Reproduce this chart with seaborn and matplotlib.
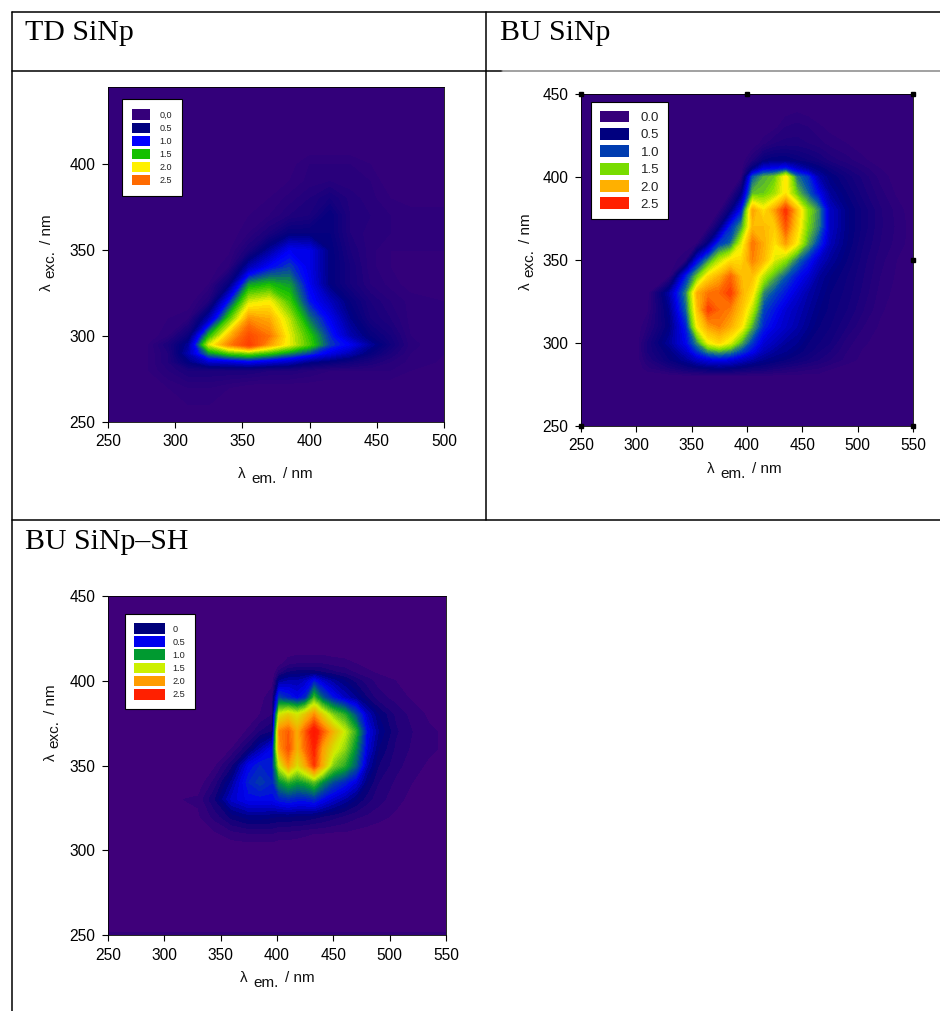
import numpy as np
import matplotlib
matplotlib.use('Agg')
import matplotlib.pyplot as plt
from matplotlib.colors import LinearSegmentedColormap
from matplotlib.lines import Line2D
from matplotlib.patches import Patch
import seaborn as sns

W, H = 940, 1011

legend_labels_1 = ['0,0', '0.5', '1.0', '1.5', '2.0', '2.5']
legend_labels_2 = ['0.0', '0.5', '1.0', '1.5', '2.0', '2.5']
legend_labels_3 = ['0', '0.5', '1.0', '1.5', '2.0', '2.5']

legend_colors_1 = ['#35007A', '#00007F', '#0000FF', '#14C000', '#FFF000', '#FF6A00']
legend_colors_2 = ['#35007A', '#00007F', '#003CB0', '#78DC00', '#FFB000', '#FF2000']
legend_colors_3 = ['#00007A', '#0000F0', '#009A30', '#CCF000', '#FF9C00', '#FF2000']

# TD SiNp
em_1 = [250, 280, 295, 310, 325, 340, 355, 370, 385, 400, 415, 430, 445, 460, 475, 500]
exc_1 = [250, 270, 280, 285, 290, 295, 300, 310, 320, 330, 340, 350, 360, 370, 380, 390, 400, 410, 445]
z_1 = [
    [0, 0, 0, 0, 0, 0, 0, 0, 0, 0, 0, 0, 0, 0, 0, 0],
    [0, 0, .05, .1, .1, .05, 0, 0, 0, 0, 0, 0, 0, 0, 0, 0],
    [0, .05, .15, .25, .25, .25, .25, .2, .2, .15, .1, .1, .1, .1, .05, .03],
    [0, .05, .2, .5, .8, .85, .95, .85, .75, .55, .45, .35, .25, .15, .08, .04],
    [0, .05, .2, .7, 1.35, 1.6, 1.7, 1.55, 1.35, 1.15, .9, .7, .45, .25, .1, .05],
    [0, .05, .25, .6, 1.9, 2.4, 2.8, 2.3, 1.95, 1.6, 1.15, .95, .6, .35, .12, .05],
    [0, 0, .1, .4, 1.5, 2.2, 2.7, 2.45, 1.95, 1.55, 1.1, .7, .45, .3, .1, .05],
    [0, 0, .05, .1, .7, 1.6, 2.35, 2.25, 1.85, 1.3, .95, .55, .3, .2, .08, .05],
    [0, 0, 0, 0, .2, 1.05, 1.9, 2.0, 1.6, 1.05, .75, .45, .25, .15, .08, .05],
    [0, 0, 0, 0, .05, .45, 1.4, 1.5, 1.4, .95, .5, .3, .15, .08, .02, .02],
    [0, 0, 0, 0, 0, .1, .7, 1.0, 1.15, .9, .5, .3, .12, .05, .02, .02],
    [0, 0, 0, 0, 0, .03, .25, .6, .95, .9, .5, .25, .12, .05, .05, .05],
    [0, 0, 0, 0, 0, 0, .1, .25, .45, .45, .45, .2, .12, .1, .1, .1],
    [0, 0, 0, 0, 0, 0, .05, .1, .2, .25, .45, .2, .15, .1, .1, .1],
    [0, 0, 0, 0, 0, 0, 0, .05, .12, .2, .3, .18, .12, .05, 0, 0],
    [0, 0, 0, 0, 0, 0, 0, .02, .05, .12, .15, .12, .1, 0, 0, 0],
    [0, 0, 0, 0, 0, 0, 0, 0, .02, .1, .1, .1, .05, 0, 0, 0],
    [0, 0, 0, 0, 0, 0, 0, 0, 0, 0, 0, 0, 0, 0, 0, 0],
    [0, 0, 0, 0, 0, 0, 0, 0, 0, 0, 0, 0, 0, 0, 0, 0],
]

# BU SiNp
em_2 = [250, 300, 310, 330, 345, 355, 365, 375, 385, 395, 405, 415, 425, 435, 445, 455, 465, 475, 490, 505, 520, 535, 550]
exc_2 = [250, 280, 285, 290, 295, 300, 310, 320, 330, 340, 350, 360, 370, 380, 390, 400, 405, 410, 420, 430, 440, 450]
z_2 = [
    [0, 0, 0, 0, 0, 0, 0, 0, 0, 0, 0, 0, 0, 0, 0, 0, 0, 0, 0, 0, 0, 0, 0],
    [0, 0, 0, 0, .02, .02, .02, .02, .02, .02, .02, .02, .02, .02, .02, .02, .02, 0, 0, 0, 0, 0, 0],
    [0, 0, .08, .2, .3, .35, .4, .42, .4, .35, .3, .28, .22, .18, .15, .12, .1, .06, .02, 0, 0, 0, 0],
    [0, 0, .15, .35, .5, .65, .75, .8, .75, .65, .55, .45, .4, .35, .3, .25, .2, .15, .08, .03, 0, 0, 0],
    [0, 0, .2, .4, .65, .95, 1.2, 1.3, 1.2, 1.0, .8, .6, .5, .45, .38, .32, .25, .2, .1, .04, .01, 0, 0],
    [0, 0, .2, .5, .8, 1.2, 1.75, 1.9, 1.7, 1.3, .95, .7, .6, .5, .45, .35, .3, .25, .12, .06, .02, 0, 0],
    [0, 0, .1, .4, .9, 1.8, 2.15, 2.25, 2.1, 1.85, 1.3, .9, .75, .65, .55, .45, .35, .3, .2, .1, .04, 0, 0],
    [0, 0, .03, .45, 1.1, 2.0, 2.5, 2.35, 2.25, 2.0, 1.6, 1.0, .85, .7, .6, .5, .4, .33, .25, .15, .06, .02, 0],
    [0, 0, 0, .55, 1.2, 2.1, 2.3, 2.35, 2.5, 2.1, 1.85, 1.2, 1.0, .85, .7, .55, .45, .35, .28, .18, .08, .03, 0],
    [0, 0, 0, .05, .9, 1.4, 1.9, 2.1, 2.35, 2.05, 2.0, 1.6, 1.3, 1.05, .85, .7, .5, .4, .3, .2, .1, .04, 0],
    [0, 0, 0, 0, .1, .75, 1.2, 1.6, 1.85, 1.9, 2.25, 2.05, 1.7, 1.5, 1.15, .9, .65, .5, .35, .22, .12, .05, .01],
    [0, 0, 0, 0, 0, .05, .4, .95, 1.1, 1.7, 2.3, 2.1, 1.85, 2.15, 1.8, 1.3, .95, .6, .4, .25, .15, .08, .02],
    [0, 0, 0, 0, 0, 0, .03, .35, .9, 1.25, 2.05, 2.05, 1.95, 2.4, 1.95, 1.45, 1.15, .65, .42, .28, .16, .09, .02],
    [0, 0, 0, 0, 0, 0, 0, .03, .35, .85, 2.15, 1.85, 2.15, 2.55, 2.05, 1.5, 1.2, .65, .42, .28, .16, .08, .01],
    [0, 0, 0, 0, 0, 0, 0, 0, .05, .4, 1.35, 1.4, 1.55, 1.85, 1.4, 1.1, .8, .5, .35, .22, .12, .04, 0],
    [0, 0, 0, 0, 0, 0, 0, 0, 0, .05, 1.05, 1.3, 1.4, 1.85, 1.15, .95, .55, .4, .28, .18, .08, .02, 0],
    [0, 0, 0, 0, 0, 0, 0, 0, 0, 0, .4, .75, .8, .9, .65, .5, .4, .3, .2, .12, .05, 0, 0],
    [0, 0, 0, 0, 0, 0, 0, 0, 0, 0, .15, .35, .4, .4, .35, .3, .25, .18, .12, .06, .02, 0, 0],
    [0, 0, 0, 0, 0, 0, 0, 0, 0, 0, 0, .08, .15, .17, .17, .15, .12, .08, .05, .02, 0, 0, 0],
    [0, 0, 0, 0, 0, 0, 0, 0, 0, 0, 0, 0, .03, .1, .12, .1, .06, .03, 0, 0, 0, 0, 0],
    [0, 0, 0, 0, 0, 0, 0, 0, 0, 0, 0, 0, 0, .02, .04, .02, 0, 0, 0, 0, 0, 0, 0],
    [0, 0, 0, 0, 0, 0, 0, 0, 0, 0, 0, 0, 0, 0, 0, 0, 0, 0, 0, 0, 0, 0, 0],
]

# BU SiNp-SH
em_3 = [250, 330, 345, 360, 375, 385, 396, 402, 410, 418, 425, 433, 440, 450, 460, 470, 480, 490, 505, 520, 535, 550]
exc_3 = [250, 254, 300, 310, 320, 330, 340, 350, 360, 370, 380, 390, 400, 405, 410, 420, 450]
z_3 = [
    [.08, .08, .08, .08, .08, .08, .08, .08, .08, .08, .08, .08, .08, .08, .08, .08, .08, .08, .08, .08, .08, .08],
    [0, 0, 0, 0, 0, 0, 0, 0, 0, 0, 0, 0, 0, 0, 0, 0, 0, 0, 0, 0, 0, 0],
    [0, 0, 0, 0, 0, 0, 0, 0, 0, 0, 0, 0, 0, 0, 0, 0, 0, 0, 0, 0, 0, 0],
    [0, 0, .04, .08, .1, .1, .1, .08, .08, .07, .06, .05, .05, .04, .04, .03, .02, .01, 0, 0, 0, 0],
    [0, .04, .12, .22, .28, .28, .26, .25, .25, .24, .24, .22, .2, .17, .14, .11, .09, .07, .04, .02, 0, 0],
    [0, .06, .2, .42, .52, .52, .52, .58, .62, .58, .58, .62, .52, .42, .34, .25, .17, .12, .07, .03, .01, 0],
    [0, .01, .12, .32, .6, .68, .6, .95, 1.1, 1.0, 1.05, 1.2, .95, .72, .6, .45, .25, .15, .09, .05, .02, 0],
    [0, 0, .04, .18, .5, .6, .6, 1.5, 2.0, 1.6, 1.9, 2.4, 1.9, 1.3, 1.1, .8, .36, .2, .12, .07, .04, .02],
    [0, 0, 0, .05, .2, .35, .5, 2.0, 2.3, 1.85, 2.2, 2.5, 2.0, 1.6, 1.35, .95, .45, .25, .14, .09, .06, .04],
    [0, 0, 0, .01, .06, .15, .2, 2.1, 2.25, 1.9, 2.25, 2.65, 2.3, 1.85, 1.5, 1.1, .5, .3, .16, .1, .06, .04],
    [0, 0, 0, 0, .02, .05, .1, 1.55, 1.7, 1.55, 1.75, 2.05, 1.7, 1.3, 1.1, .75, .4, .25, .14, .08, .04, .02],
    [0, 0, 0, 0, 0, .02, .1, .7, .6, .5, .6, 1.15, .8, .55, .4, .3, .2, .12, .08, .04, .01, 0],
    [0, 0, 0, 0, 0, 0, .02, .3, .35, .35, .4, .55, .42, .32, .25, .18, .12, .08, .05, .02, 0, 0],
    [0, 0, 0, 0, 0, 0, 0, .12, .2, .22, .22, .22, .2, .16, .13, .09, .06, .04, .02, .01, 0, 0],
    [0, 0, 0, 0, 0, 0, 0, .03, .08, .1, .1, .1, .1, .08, .07, .05, .03, .02, 0, 0, 0, 0],
    [0, 0, 0, 0, 0, 0, 0, 0, 0, 0, 0, 0, 0, 0, 0, 0, 0, 0, 0, 0, 0, 0],
    [0, 0, 0, 0, 0, 0, 0, 0, 0, 0, 0, 0, 0, 0, 0, 0, 0, 0, 0, 0, 0, 0],
]

ticks_em_1 = [250, 300, 350, 400, 450, 500]
ticks_exc_1 = [250, 300, 350, 400]
ticks_wide = [250, 300, 350, 400, 450, 500, 550]
ticks_exc = [250, 300, 350, 400, 450]

sns.set_theme(style='white', rc={'axes.edgecolor': 'black', 'axes.linewidth': 0.6})
plt.rcParams['font.family'] = ['Liberation Sans', 'DejaVu Sans']

cmap_1 = sns.blend_palette(['#35007A', '#00007F', '#0000FF', '#14C000', '#FFF000', '#FF6A00', '#FF2000'], n_colors=256, as_cmap=True)
cmap_2 = LinearSegmentedColormap.from_list('bu', [(0, '#35007A'), (.4 / 3, '#00007F'), (.8 / 3, '#0000F0'), (1.05 / 3, '#0050B0'),
                                                  (1.45 / 3, '#78DC00'), (1.8 / 3, '#FFF000'), (2.1 / 3, '#FFB000'), (2.6 / 3, '#FF2000'), (1, '#FF0000')])
cmap_3 = LinearSegmentedColormap.from_list('sh', [(0, '#46007A'), (.25 / 3, '#00007A'), (.5 / 3, '#0000F0'), (1 / 3, '#009A30'),
                                                  (1.5 / 3, '#CCF000'), (2 / 3, '#FF9C00'), (2.5 / 3, '#FF2000'), (1, '#FF0000')])

fig = plt.figure(figsize=(W / 100, H / 100), dpi=100)


def add_panel(box, em, exc, z, cmap, xlim, ylim, xticks, yticks):
    left, top, right, bottom = box
    ax = fig.add_axes([left / W, 1 - bottom / H, (right - left) / W, (bottom - top) / H])
    ax.contourf(em, exc, np.array(z), levels=np.arange(0, 3.01, 0.05), cmap=cmap, vmin=0, vmax=3.0, antialiased=False)
    ax.set_xlim(xlim)
    ax.set_ylim(ylim)
    ax.set_xticks(xticks)
    ax.set_yticks(yticks)
    ax.tick_params(left=True, bottom=True, length=4, width=0.8, pad=5, labelsize=11.2, colors='black')
    return ax


def add_label(x, y, name, vertical=False):
    # lambda, dropped subscript and unit sit on separate baselines in the original
    parts = [('λ', 0, 0, 11), (name, 13, 5, 11), ('/ nm', 45, 0, 11)]
    if name == 'exc.':
        parts = [('λ', 0, 0, 11), (name, 13, 3, 11), ('/ nm', 47, 0, 11)]
    for txt, along, drop, size in parts:
        if vertical:
            px, py, rot = x + drop, y - along, 90
        else:
            px, py, rot = x + along, y + drop, 0
        fig.text(px / W, 1 - py / H, txt, fontsize=size, rotation=rot, rotation_mode='anchor',
                 ha='left', va='center', color='#111111')


def add_legend(ax, colors, labels, corner, size, hlen, hheight, spacing, pad, textpad):
    handles = [Patch(facecolor=c, edgecolor='none', label=t) for c, t in zip(colors, labels)]
    leg = ax.legend(handles=handles, loc='upper left', bbox_to_anchor=(corner[0] / W, 1 - corner[1] / H),
                    bbox_transform=fig.transFigure, fontsize=size, handlelength=hlen, handleheight=hheight,
                    labelspacing=spacing, borderaxespad=0, frameon=True, fancybox=False, framealpha=1,
                    borderpad=pad, handletextpad=textpad)
    leg.get_frame().set_edgecolor('black')
    leg.get_frame().set_linewidth(0.8)
    for t in leg.get_texts():
        t.set_color('#222222')


ax1 = add_panel((108, 87, 444, 422), em_1, exc_1, z_1, cmap_1, (250, 500), (250, 445), ticks_em_1, ticks_exc_1)
add_label(238, 474, 'em.')
add_label(47, 291, 'exc.', vertical=True)
add_legend(ax1, legend_colors_1, legend_labels_1, (122, 99), 6.5, 2.0, 1.4, 0.3, 1.15, 1.0)

ax2 = add_panel((581, 94, 913, 426), em_2, exc_2, z_2, cmap_2, (250, 550), (250, 450), ticks_wide, ticks_exc)
add_label(707, 469, 'em.')
add_label(526, 290, 'exc.', vertical=True)
add_legend(ax2, legend_colors_2, legend_labels_2, (591, 102), 9.5, 2.25, 1.0, 0.3, 0.65, 0.85)
ax2.plot([250, 400, 550, 550, 550, 250], [450, 450, 450, 350, 250, 250], 's', color='black', ms=2.5, clip_on=False)

ax3 = add_panel((108, 596, 446, 935), em_3, exc_3, z_3, cmap_3, (250, 550), (250, 450), ticks_wide, ticks_exc)
add_label(240, 978, 'em.')
add_label(51, 761, 'exc.', vertical=True)
add_legend(ax3, legend_colors_3, legend_labels_3, (125, 614), 6.6, 3.4, 1.4, 0.28, 1.0, 0.8)

# table rules and cell titles
rules = [
    ([12, 940], [12, 12], 'black'),
    ([12, 12], [12, 1011], 'black'),
    ([486, 486], [12, 520], 'black'),
    ([12, 502], [71, 71], 'black'),
    ([502, 940], [71, 71], '#888888'),
    ([12, 940], [520, 520], 'black'),
]
for xs, ys, col in rules:
    fig.add_artist(Line2D([x / W for x in xs], [1 - y / H for y in ys], color=col, lw=1.1))

titles = [('TD SiNp', 25, 33), ('BU SiNp', 500, 33), ('BU SiNp–SH', 25, 542)]
for label, x, y in titles:
    fig.text(x / W, 1 - y / H, label, family=['Liberation Serif'], fontsize=21.5, va='center', ha='left', color='black')

fig.savefig('out.png', dpi=100)
